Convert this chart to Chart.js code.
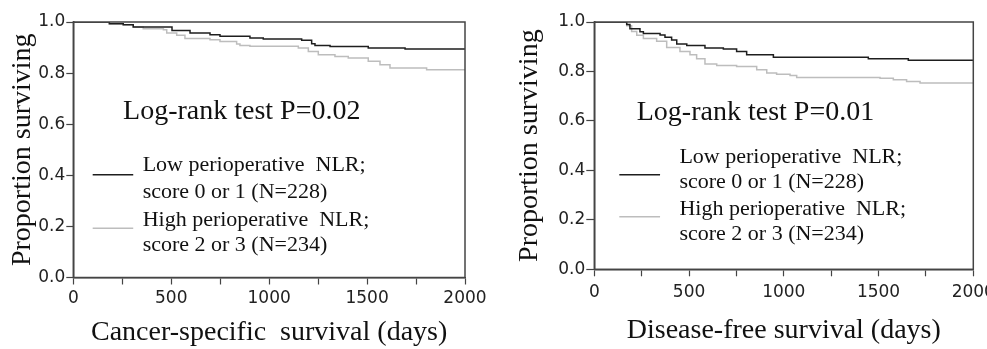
<!DOCTYPE html>
<html>
<head>
<meta charset="utf-8">
<script src="https://cdn.jsdelivr.net/npm/chart.js@4.4.0/dist/chart.umd.min.js"></script>
<style>
  html, body { margin: 0; padding: 0; background: #fff; }
  #wrap { position: relative; width: 987px; height: 349px; }
  .panel { position: absolute; top: 0; height: 349px; }
  #left { left: 0; width: 493px; }
  #right { left: 493px; width: 494px; }
</style>
</head>
<body>
<div id="wrap">
  <div class="panel" id="left"><canvas id="chart-cs"></canvas></div>
  <div class="panel" id="right"><canvas id="chart-df"></canvas></div>
</div>
<script>
  'use strict';

  // Cancer-specific survival (left panel), Kaplan-Meier steps
  var csLowDays = [0, 184, 255, 306, 504, 596, 698, 749, 902, 970, 1166, 1217, 1234, 1311, 1506, 1694, 2000];
  var csLowSurv = [1.0, 0.993, 0.989, 0.980, 0.967, 0.957, 0.950, 0.944, 0.937, 0.933, 0.929, 0.915, 0.908, 0.904, 0.898, 0.894, 0.894];
  var csHighDays = [0, 184, 255, 306, 357, 460, 477, 528, 570, 698, 749, 834, 851, 902, 1149, 1200, 1251, 1336, 1404, 1506, 1566, 1617, 1804, 2000];
  var csHighSurv = [1.0, 0.993, 0.989, 0.980, 0.974, 0.970, 0.957, 0.948, 0.935, 0.931, 0.924, 0.914, 0.908, 0.905, 0.898, 0.885, 0.872, 0.865, 0.859, 0.846, 0.833, 0.820, 0.813, 0.813];

  // Disease-free survival (right panel)
  var dfLowDays = [0, 171, 188, 241, 259, 347, 373, 408, 435, 488, 584, 681, 751, 804, 945, 1446, 1657, 2000];
  var dfLowSurv = [1.0, 0.990, 0.973, 0.961, 0.954, 0.947, 0.938, 0.927, 0.911, 0.905, 0.895, 0.891, 0.881, 0.868, 0.857, 0.851, 0.845, 0.845];
  var dfHighDays = [0, 171, 197, 224, 259, 329, 382, 452, 505, 540, 584, 646, 751, 857, 910, 962, 1033, 1068, 1508, 1578, 1648, 1719, 2000];
  var dfHighSurv = [1.0, 0.985, 0.962, 0.946, 0.933, 0.922, 0.897, 0.881, 0.868, 0.851, 0.830, 0.824, 0.820, 0.807, 0.794, 0.789, 0.784, 0.776, 0.773, 0.766, 0.759, 0.753, 0.753];

  var xTickLabels = [0, 500, 1000, 1500, 2000];
  var legendLines = [
    'Low perioperative  NLR;',
    'score 0 or 1 (N=228)',
    'High perioperative  NLR;',
    'score 2 or 3 (N=234)',
  ];

  var LOW_COLOR = '#1e1e1e';
  var HIGH_COLOR = '#bdbdbd';
  var AXIS_COLOR = '#444';
  var SERIF = '"Liberation Serif", "Times New Roman", serif';
  var SANS = '"DejaVu Sans", Verdana, sans-serif';

  function toPoints(days, surv) {
    return days.map(function (d, i) { return { x: d, y: surv[i] }; });
  }

  /* ---- frame, p-value and hand-made legend ---- */
  var notesPlugin = {
    id: 'notes',
    afterDraw: function (chart) {
      var o = chart.options.plugins.notes;
      var ctx = chart.ctx;
      var a = chart.chartArea;
      var xs = chart.scales.x;
      var ys = chart.scales.y;
      ctx.save();
      ctx.strokeStyle = AXIS_COLOR;
      ctx.lineWidth = 1.5;
      ctx.strokeRect(a.left, a.top, a.right - a.left, a.bottom - a.top);

      ctx.fillStyle = '#111';
      ctx.textBaseline = 'alphabetic';
      ctx.textAlign = 'left';
      ctx.font = '28px ' + SERIF;
      ctx.fillText(o.pText, xs.getPixelForValue(o.pAt[0]), ys.getPixelForValue(o.pAt[1]));

      var colors = [LOW_COLOR, HIGH_COLOR];
      o.lineY.forEach(function (v, i) {
        ctx.strokeStyle = colors[i];
        ctx.lineWidth = 1.5;
        ctx.beginPath();
        ctx.moveTo(xs.getPixelForValue(o.lineX[0]), ys.getPixelForValue(v));
        ctx.lineTo(xs.getPixelForValue(o.lineX[1]), ys.getPixelForValue(v));
        ctx.stroke();
      });

      ctx.font = '22px ' + SERIF;
      legendLines.forEach(function (t, i) {
        ctx.fillText(t, xs.getPixelForValue(o.textX), ys.getPixelForValue(o.textY[i]));
      });
      ctx.restore();
    },
  };

  function makeChart(id, cfg) {
    var ctx = document.getElementById(id);
    return new Chart(ctx, {
      type: 'line',
      data: {
        datasets: [
          {
            label: 'Low',
            data: toPoints(cfg.lowDays, cfg.lowSurv),
            borderColor: LOW_COLOR,
            borderWidth: 1.5,
            stepped: true,
            pointRadius: 0,
          },
          {
            label: 'High',
            data: toPoints(cfg.highDays, cfg.highSurv),
            borderColor: HIGH_COLOR,
            borderWidth: 1.5,
            stepped: true,
            pointRadius: 0,
          },
        ],
      },
      options: {
        responsive: true,
        maintainAspectRatio: false,
        animation: false,
        layout: { padding: cfg.padding },
        plugins: {
          legend: { display: false },
          tooltip: { enabled: false },
          notes: cfg.notes,
        },
        scales: {
          x: {
            type: 'linear',
            min: 0,
            max: 2000,
            afterFit: function (s) {
              s.height = cfg.xHeight;
              s.paddingLeft = 0;
              s.paddingRight = 0;
            },
            ticks: {
              stepSize: 250,
              autoSkip: false,
              maxRotation: 0,
              padding: cfg.xTickPad,
              color: '#222',
              font: { family: SANS, size: 17 },
              callback: function (v) {
                return xTickLabels.indexOf(v) >= 0 ? String(v) : '';
              },
            },
            grid: { drawOnChartArea: false, tickLength: 7, color: AXIS_COLOR, tickWidth: 1.2 },
            border: { color: AXIS_COLOR, width: 1.5 },
            title: {
              display: true,
              text: cfg.xTitle,
              color: '#111',
              font: { family: SERIF, size: 28 },
              padding: { top: 0, bottom: cfg.xTitlePad },
            },
          },
          y: {
            min: 0,
            max: 1,
            afterFit: function (s) {
              s.width = cfg.yWidth;
              s.paddingTop = 0;
              s.paddingBottom = 0;
            },
            ticks: {
              stepSize: 0.2,
              padding: 1,
              color: '#222',
              font: { family: SANS, size: 17 },
              callback: function (v) { return v.toFixed(1); },
            },
            grid: { drawOnChartArea: false, tickLength: cfg.yTick, color: AXIS_COLOR, tickWidth: 1.2 },
            border: { color: AXIS_COLOR, width: 1.5 },
            title: {
              display: true,
              text: 'Proportion surviving',
              color: '#111',
              font: { family: SERIF, size: 28 },
              padding: { top: cfg.yTitlePad, bottom: 0 },
            },
          },
        },
      },
      plugins: [notesPlugin],
    });
  }

  makeChart('chart-cs', {
    lowDays: csLowDays, lowSurv: csLowSurv,
    highDays: csHighDays, highSurv: csHighSurv,
    padding: { top: 22, right: 28, left: 0, bottom: 0 },
    xHeight: 71.5, yWidth: 73.3, yTick: 7,
    xTickPad: 4, xTitlePad: 0, yTitlePad: 6,
    xTitle: 'Cancer-specific  survival (days)',
    notes: {
      pText: 'Log-rank test P=0.02', pAt: [254, 0.621],
      lineX: [99, 306], lineY: [0.402, 0.193],
      textX: 354, textY: [0.415, 0.311, 0.200, 0.102],
    },
  });

  makeChart('chart-df', {
    lowDays: dfLowDays, lowSurv: dfLowSurv,
    highDays: dfHighDays, highSurv: dfHighSurv,
    padding: { top: 22, right: 13.7, left: 0, bottom: 0 },
    xHeight: 79.7, yWidth: 101.3, yTick: 8,
    xTickPad: 6, xTitlePad: 2, yTitlePad: 20,
    xTitle: 'Disease-free survival (days)',
    notes: {
      pText: 'Log-rank test P=0.01', pAt: [224, 0.602],
      lineX: [132, 347], lineY: [0.382, 0.213],
      textX: 449, textY: [0.429, 0.328, 0.220, 0.119],
    },
  });
</script>
</body>
</html>
